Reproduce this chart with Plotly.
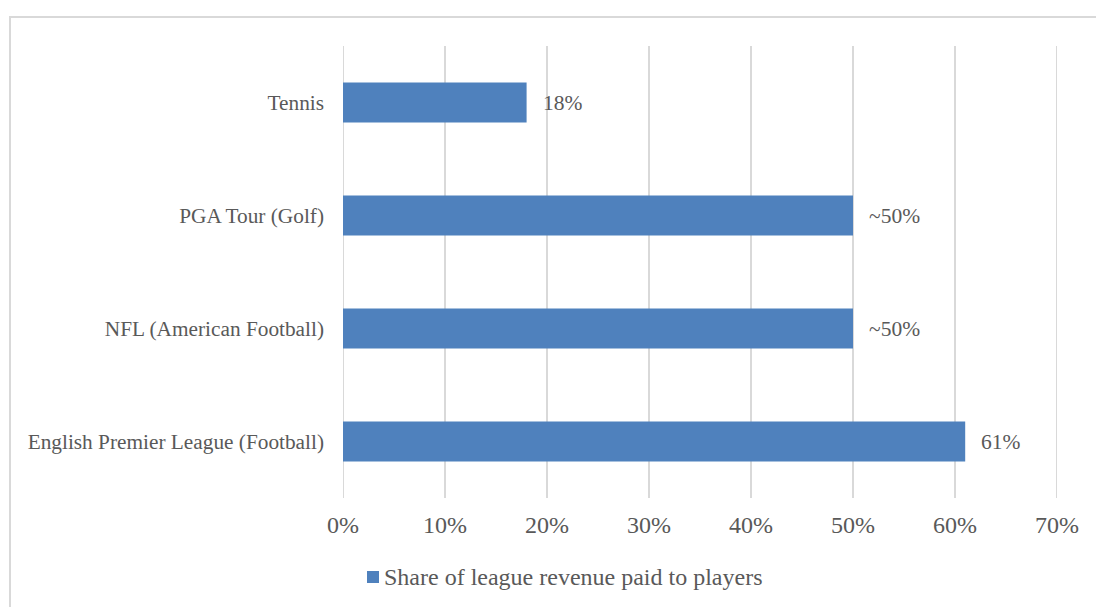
import plotly.graph_objects as go

categories = ["English Premier League (Football)", "NFL (American Football)", "PGA Tour (Golf)", "Tennis"]
values = [61, 50, 50, 18]
labels = ["61%", "~50%", "~50%", "18%"]
series_name = "Share of league revenue paid to players"
tick_vals = [0, 10, 20, 30, 40, 50, 60, 70]
tick_text = ["0%", "10%", "20%", "30%", "40%", "50%", "60%", "70%"]

FONT = "Liberation Serif, Times New Roman, serif"
GRAY = "#595959"
BAR = "#4f81bd"
GRID = "#d9d9d9"

L, R, T, B = 343, 1057, 46, 498
PW, PH = R - L, B - T


def px(x):
    return (x - L) / PW


def py(y):
    return (B - y) / PH


fig = go.Figure()
fig.add_trace(go.Bar(
    y=categories, x=values, orientation="h",
    marker=dict(color=BAR, line=dict(width=0)),
    name=series_name, showlegend=False,
))

for c, v, t in zip(categories, values, labels):
    fig.add_annotation(x=v, y=c, text=t, showarrow=False, xanchor="left",
                       xshift=14, font=dict(family=FONT, size=21.5, color=GRAY))

# edge gridlines (plotly omits those at the range limits)
for xv in (tick_vals[0], tick_vals[-1]):
    fig.add_shape(type="line", xref="x", yref="paper", x0=xv, x1=xv, y0=0, y1=1,
                  line=dict(color=GRID, width=2), layer="below")

# chart border
fig.add_shape(type="rect", xref="paper", yref="paper",
              x0=px(10), x1=1.2, y0=-0.4, y1=py(17),
              line=dict(color=GRID, width=2), fillcolor="rgba(0,0,0,0)", layer="below")

# manual legend
fig.add_shape(type="rect", xref="paper", yref="paper",
              x0=px(367), x1=px(379), y0=py(583), y1=py(571),
              line=dict(width=0), fillcolor=BAR)
fig.add_annotation(xref="paper", yref="paper", x=px(382), y=py(577),
                   xanchor="left", yanchor="middle", showarrow=False,
                   text=series_name, font=dict(family=FONT, size=24, color=GRAY))

fig.update_layout(
    width=1096, height=607,
    margin=dict(l=L, r=1096 - R, t=T, b=607 - B),
    paper_bgcolor="white", plot_bgcolor="white",
    bargap=0.646,
    showlegend=False,
    font=dict(family=FONT, color=GRAY),
    xaxis=dict(range=[0, 70], tickvals=tick_vals, ticktext=tick_text,
               showgrid=True, gridcolor=GRID, gridwidth=2,
               zeroline=False, showline=False, ticks="",
               tickfont=dict(family=FONT, size=24, color=GRAY), ticklabelstandoff=10),
    yaxis=dict(categoryorder="array", categoryarray=categories,
               showgrid=False, zeroline=False, showline=False, ticks="",
               tickfont=dict(family=FONT, size=21.3, color=GRAY), ticklabelstandoff=18),
)

fig.write_html("out.html")
